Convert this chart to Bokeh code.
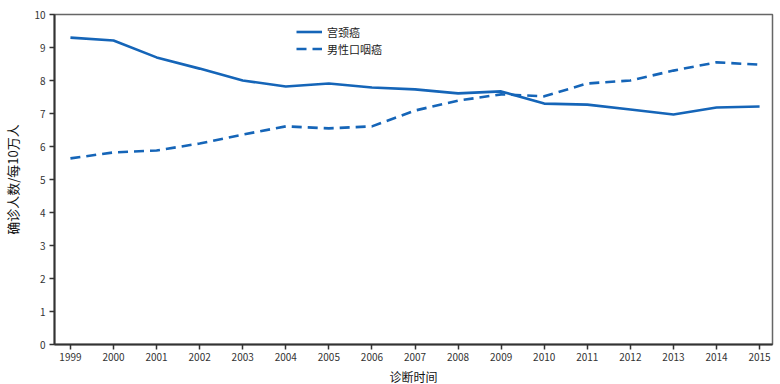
from bokeh.plotting import figure
from bokeh.models import Range1d, FixedTicker, Legend, LegendItem
from bokeh.embed import file_html
from bokeh.resources import INLINE

years = list(range(1999, 2016))
cervical = [9.30, 9.21, 8.70, 8.36, 8.00, 7.82, 7.91, 7.79, 7.73, 7.61, 7.67,
            7.30, 7.27, 7.12, 6.97, 7.18, 7.21]
oropharyngeal_male = [5.64, 5.82, 5.88, 6.09, 6.36, 6.61, 6.55, 6.61, 7.09, 7.39,
                      7.58, 7.52, 7.91, 8.00, 8.30, 8.55, 8.48]
y_ticks = list(range(0, 11))
series_names = ["宫颈癌", "男性口咽癌"]

color = "#1565b8"
font = "Noto Sans CJK SC"

p = figure(frame_width=718, frame_height=330, output_backend="svg",
           toolbar_location=None,
           x_range=Range1d(1998.63, 2015.30), y_range=Range1d(0, 10),
           min_border_left=46, min_border_top=14, min_border_right=2,
           min_border_bottom=30)
p.background_fill_color = "white"
p.border_fill_color = "white"
p.outline_line_color = "#666666"
p.outline_line_width = 1.5
p.xgrid.visible = False
p.ygrid.visible = False

r1 = p.line(years, cervical, line_color=color, line_width=2.6)
r2 = p.line(years, oropharyngeal_male, line_color=color, line_width=2.6,
            line_dash="10 6")

for ax in (p.xaxis[0], p.yaxis[0]):
    ax.axis_line_color = "#333333"
    ax.axis_line_width = 2
    ax.major_tick_line_color = "#333333"
    ax.major_tick_line_width = 1.5
    ax.major_tick_out = 5
    ax.major_tick_in = 0
    ax.minor_tick_line_color = None
    ax.major_label_text_font = font
    ax.major_label_text_font_size = "10px"
    ax.major_label_text_color = "#333333"
    ax.axis_label_text_font = font
    ax.axis_label_text_font_style = "normal"
    ax.axis_label_text_color = "#111111"

p.xaxis.ticker = FixedTicker(ticks=years)
p.yaxis.ticker = FixedTicker(ticks=y_ticks)
p.xaxis.major_label_standoff = 3
p.yaxis.major_label_standoff = 4
p.yaxis.axis_label = "确诊人数/每10万人"
p.yaxis.axis_label_text_font_size = "13px"
p.yaxis.axis_label_standoff = 9
p.xaxis.axis_label = "诊断时间"
p.xaxis.axis_label_text_font_size = "12px"
p.xaxis.axis_label_standoff = 4

legend = Legend(items=[LegendItem(label=series_names[0], renderers=[r1]),
                       LegendItem(label=series_names[1], renderers=[r2])],
                location=(242, 287))
legend.background_fill_alpha = 0
legend.border_line_color = None
legend.label_text_font = font
legend.label_text_font_size = "11px"
legend.label_text_color = "#222222"
legend.glyph_width = 26
legend.spacing = 0
legend.label_height = 17
legend.glyph_height = 17
legend.padding = 4
legend.margin = 0
p.add_layout(legend)

open("out.html", "w").write(file_html(p, INLINE))
